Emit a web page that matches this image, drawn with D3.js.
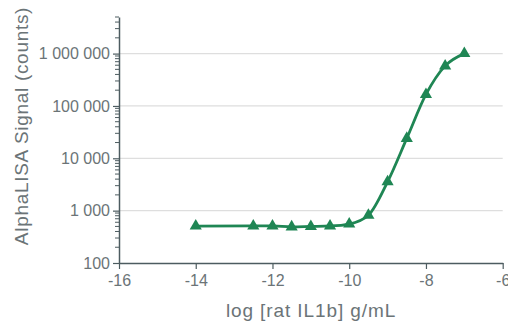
<!DOCTYPE html>
<html>
<head>
<meta charset="utf-8">
<script src="https://cdn.jsdelivr.net/npm/d3@7"></script>
<style>
  body { margin: 0; background: #fff; }
  text { font-family: "Liberation Sans", Arial, sans-serif; }
</style>
</head>
<body>
<svg id="chart" width="508" height="322"></svg>
<script>
// log concentration of rat IL1b (g/mL)
const logConc = [-14, -12.5, -12, -11.5, -11, -10.5, -10, -9.5, -9, -8.5, -8, -7.5, -7];
// AlphaLISA signal (counts)
const signal = [508, 510, 510, 490, 500, 510, 555, 815, 3550, 24000, 166000, 582000, 1000000];

const xTicks = [-16, -14, -12, -10, -8, -6];
const yTicks = [100, 1000, 10000, 100000, 1000000];

const width = 508, height = 322;
const margin = { top: 17, right: 5, bottom: 59, left: 119 };
const innerW = 502.7 - margin.left;
const innerH = 263 - margin.top;

const green = '#1f8654';
const axisColor = '#4d5c60';
const textColor = '#6b7477';

const svg = d3.select('#chart');
const g = svg.append('g').attr('transform', `translate(${margin.left},${margin.top})`);

const x = d3.scaleLinear().domain([-16, -6]).range([0, innerW]);
const y = d3.scaleLog().domain([100, 5000000]).range([innerH, 0]);

const fmt = d => d3.format(',')(d).replace(/,/g, ' ');

// gridlines
g.append('g')
  .selectAll('line')
  .data(yTicks.slice(1))
  .enter()
  .append('line')
  .attr('x1', 0)
  .attr('x2', innerW)
  .attr('y1', d => y(d))
  .attr('y2', d => y(d))
  .attr('stroke', '#dedede')
  .attr('stroke-width', 1.3);

// minor ticks on y axis
const minor = [];
for (let e = 2; e <= 6; e++) {
  for (let m = 2; m <= 9; m++) {
    const v = m * Math.pow(10, e);
    if (v <= 5000000) minor.push(v);
  }
}
g.append('g')
  .selectAll('line')
  .data(minor)
  .enter()
  .append('line')
  .attr('x1', -4)
  .attr('x2', 0)
  .attr('y1', d => y(d))
  .attr('y2', d => y(d))
  .attr('stroke', axisColor)
  .attr('stroke-width', 1);

// y axis
const yAxis = g.append('g')
  .call(d3.axisLeft(y).tickValues(yTicks).tickFormat(fmt).tickSize(6).tickSizeOuter(0).tickPadding(3));

// x axis
const xAxis = g.append('g')
  .attr('transform', `translate(0,${innerH})`)
  .call(d3.axisBottom(x).tickValues(xTicks).tickFormat(d3.format('d')).tickSize(6).tickSizeOuter(0).tickPadding(6));

[xAxis, yAxis].forEach(a => {
  a.select('.domain').attr('stroke', axisColor).attr('stroke-width', 1.5);
  a.selectAll('.tick line').attr('stroke', axisColor).attr('stroke-width', 1.2);
  a.selectAll('.tick text')
    .attr('fill', textColor)
    .style('font-size', '16px')
    .style('font-family', '"Liberation Sans", Arial, sans-serif');
});
xAxis.selectAll('.tick text').text(d => d3.format('d')(d).replace('−', '-'));

const data = logConc.map((c, i) => ({ c, s: signal[i] }));

// fitted curve
const line = d3.line()
  .x(d => x(d.c))
  .y(d => y(d.s))
  .curve(d3.curveMonotoneX);

g.append('path')
  .datum(data)
  .attr('fill', 'none')
  .attr('stroke', green)
  .attr('stroke-width', 2.8)
  .attr('d', line);

// points
g.selectAll('.pt')
  .data(data)
  .enter()
  .append('path')
  .attr('class', 'pt')
  .attr('transform', d => `translate(${x(d.c)},${y(d.s)})`)
  .attr('d', d3.symbol().type(d3.symbolTriangle).size(64))
  .attr('fill', green);

// axis titles
svg.append('text')
  .attr('transform', 'translate(28,126) rotate(-90)')
  .attr('text-anchor', 'middle')
  .attr('fill', textColor)
  .style('font-size', '19px')
  .style('letter-spacing', '0.7px')
  .text('AlphaLISA Signal (counts)');

svg.append('text')
  .attr('x', 311)
  .attr('y', 317)
  .attr('text-anchor', 'middle')
  .attr('fill', textColor)
  .style('font-size', '19px')
  .style('letter-spacing', '0.9px')
  .text('log [rat IL1b] g/mL');
</script>
</body>
</html>
